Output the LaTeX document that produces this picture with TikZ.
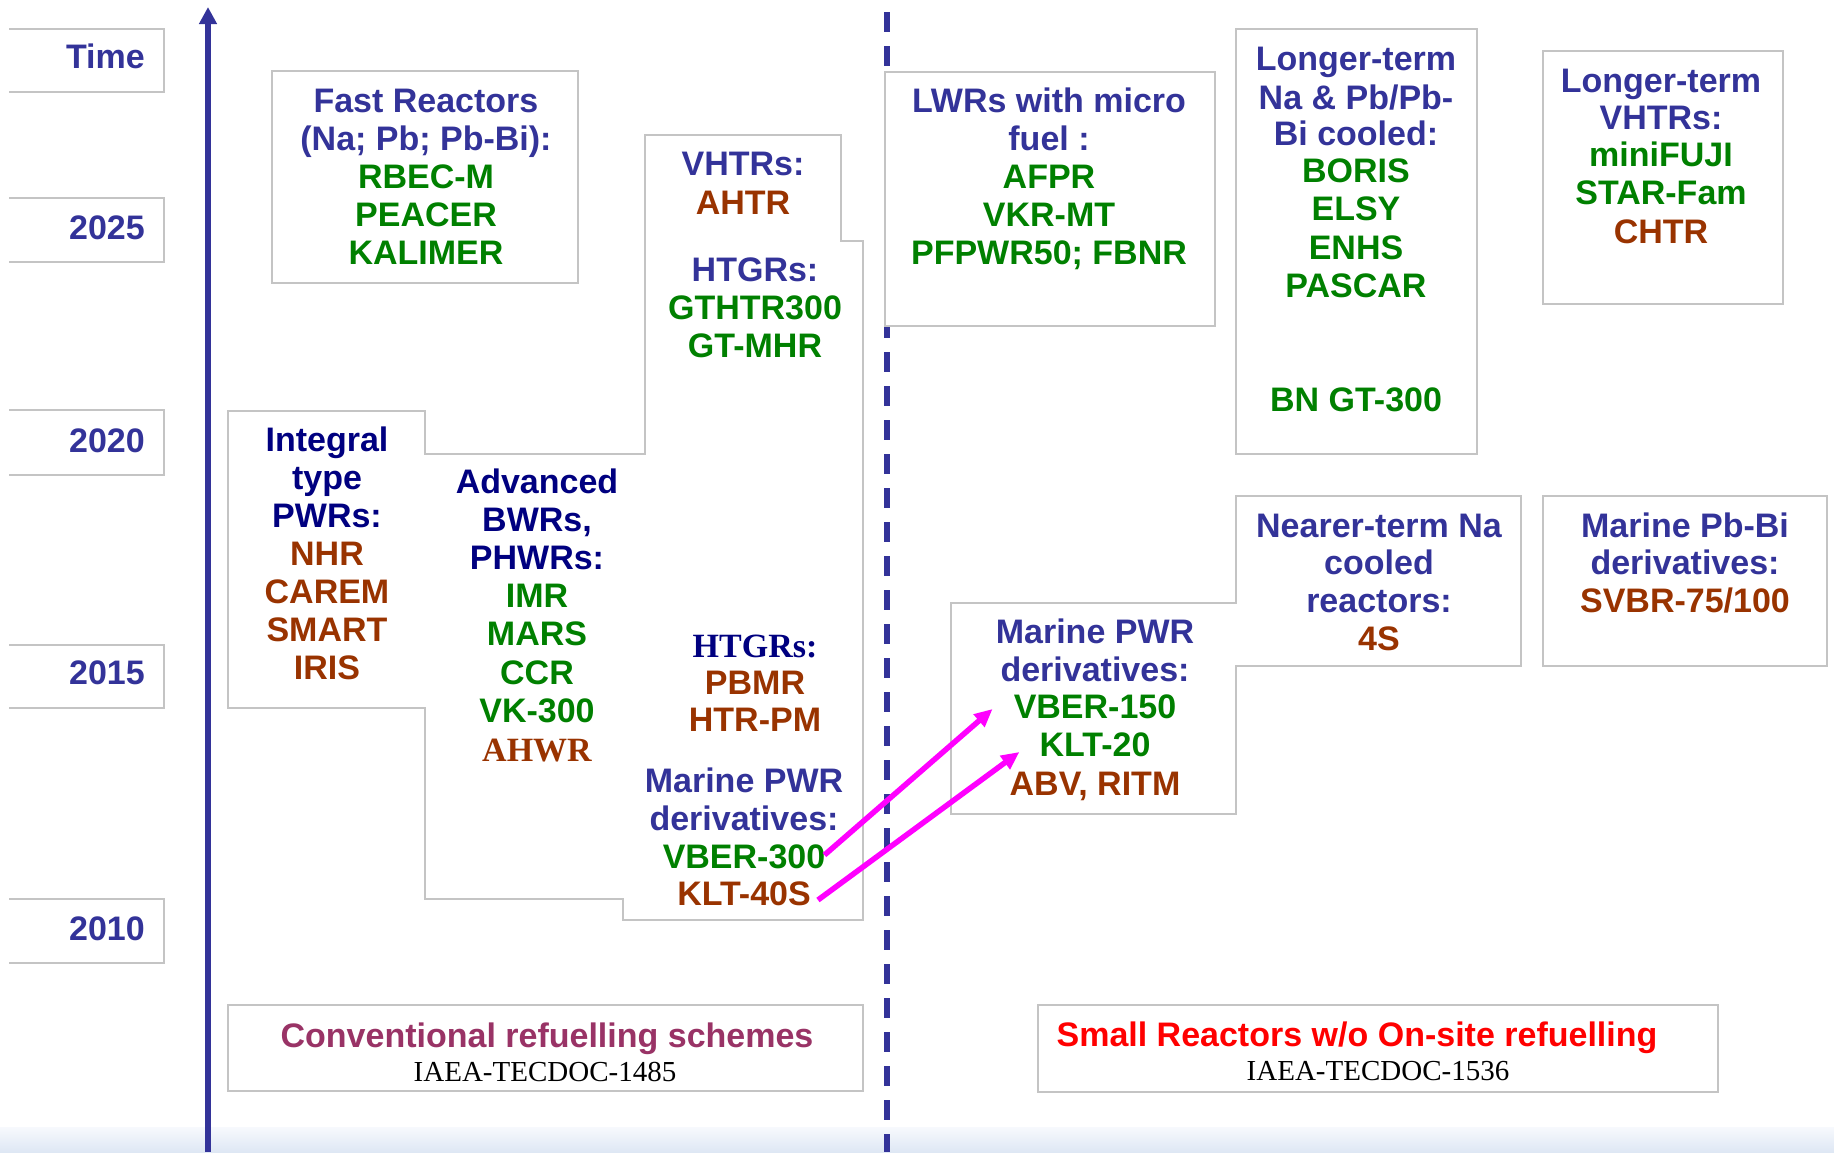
\documentclass[tikz,border=0pt]{standalone}
\usepackage{fontspec}
\setmainfont{Liberation Sans}
\newfontfamily\serfam{Liberation Serif}
\usetikzlibrary{arrows.meta,calc}
\definecolor{navyc}{HTML}{000080}
\definecolor{bluec}{HTML}{333399}
\definecolor{grnc}{HTML}{008000}
\definecolor{brnc}{HTML}{993300}
\definecolor{mrnc}{HTML}{993366}
\definecolor{boxc}{HTML}{C4C4C4}
\definecolor{redc}{HTML}{FF0000}
\definecolor{magc}{HTML}{FF00FF}
\begin{document}
\begin{tikzpicture}[x=1pt,y=-1pt,
  lbl/.style={anchor=base, inner sep=0pt, font=\fontsize{34}{38}\selectfont\bfseries},
  slbl/.style={anchor=base, inner sep=0pt, font=\fontsize{34}{38}\selectfont\serfam\bfseries},
  ref/.style={anchor=base, inner sep=0pt, font=\fontsize{29}{32}\selectfont\serfam, text=black},
  yr/.style={anchor=base east, inner sep=0pt, font=\fontsize{34}{38}\selectfont\bfseries, text=bluec},
  hb/.style={lbl, text=bluec},
  hn/.style={lbl, text=navyc},
  gn/.style={lbl, text=grnc},
  bn/.style={lbl, text=brnc},
  frame/.style={draw=boxc, line width=1.5pt, fill=white},
  yrframe/.style={draw=boxc, line width=1.5pt},
  link/.style={draw=magc, line width=5.5pt, -{Triangle[length=18pt,width=16pt]}}
]
\useasboundingbox (0,0) rectangle (1834,1152);
\fill[white] (0,0) rectangle (1834,1152);
\shade[top color={rgb,255:red,247;green,249;blue,253}, bottom color={rgb,255:red,222;green,231;blue,244}] (0,1127) rectangle (1834,1152);

% year boxes
\draw[yrframe] (9,29) -- (164,29) -- (164,92) -- (9,92);
\draw[yrframe] (9,198) -- (164,198) -- (164,262) -- (9,262);
\draw[yrframe] (9,410) -- (164,410) -- (164,475) -- (9,475);
\draw[yrframe] (9,645) -- (164,645) -- (164,708) -- (9,708);
\draw[yrframe] (9,899) -- (164,899) -- (164,963) -- (9,963);
\node[yr] (ytime) at (145,68) {Time};
\node[yr] (y2025) at (145,239) {2025};
\node[yr] (y2020) at (145,452) {2020};
\node[yr] (y2015) at (145,684) {2015};
\node[yr] (y2010) at (145,940) {2010};

% time axis
\coordinate (axb) at (208,1152);
\coordinate (axt) at (208,7);
\draw[draw=bluec, line width=6pt, -{Triangle[length=17pt,width=17pt]}] (axb) -- (axt);

% dashed divider
\coordinate (dvt) at (887,12);
\coordinate (dvb) at (887,1152);
\draw[draw=bluec, line width=6pt, dash pattern=on 20pt off 14pt] (dvt) -- (dvb);

% boxes
\draw[frame] (645,135) -- (841,135) -- (841,241) -- (863,241) -- (863,920) -- (623,920) -- (623,899) -- (425,899) -- (425,708) -- (228,708) -- (228,411) -- (425,411) -- (425,454) -- (645,454) -- cycle;
\draw[frame] (272,71) rectangle (578,283);
\draw[frame] (885,72) rectangle (1215,326);
\draw[frame] (1236,29) rectangle (1477,454);
\draw[frame] (1543,51) rectangle (1783,304);
\draw[frame] (951,603) -- (1236,603) -- (1236,496) -- (1521,496) -- (1521,666) -- (1236,666) -- (1236,814) -- (951,814) -- cycle;
\draw[frame] (1543,496) rectangle (1827,666);
\draw[frame] (228,1005) rectangle (863,1091);
\draw[frame] (1038,1005) rectangle (1718,1092);

% Fast reactors
\node[hb] (fr1) at (426,112) {Fast Reactors};
\node[hb] (fr2) at (426,150) {(Na; Pb; Pb-Bi):};
\node[gn] (fr3) at (426,188) {RBEC-M};
\node[gn] (fr4) at (426,226) {PEACER};
\node[gn] (fr5) at (426,264) {KALIMER};

% VHTRs / HTGRs upper
\node[hb] (vh1) at (743,175) {VHTRs:};
\node[bn] (vh2) at (743,214) {AHTR};
\node[hb] (hg1) at (755,281) {HTGRs:};
\node[gn] (hg2) at (755,319) {GTHTR300};
\node[gn] (hg3) at (755,357) {GT-MHR};

% Integral type PWRs
\node[hn] (ip1) at (327,451) {Integral};
\node[hn] (ip2) at (327,489) {type};
\node[hn] (ip3) at (327,527) {PWRs:};
\node[bn] (ip4) at (327,565) {NHR};
\node[bn] (ip5) at (327,603) {CAREM};
\node[bn] (ip6) at (327,641) {SMART};
\node[bn] (ip7) at (327,679) {IRIS};

% Advanced BWRs
\node[hn] (ab1) at (537,493) {Advanced};
\node[hn] (ab2) at (537,531) {BWRs,};
\node[hn] (ab3) at (537,569) {PHWRs:};
\node[gn] (ab4) at (537,607) {IMR};
\node[gn] (ab5) at (537,645) {MARS};
\node[gn] (ab6) at (537,684) {CCR};
\node[gn] (ab7) at (537,722) {VK-300};
\node[slbl, text=brnc] (ab8) at (537,761) {AHWR};

% HTGRs lower
\node[slbl, text=navyc] (hl1) at (755,657) {HTGRs:};
\node[bn] (hl2) at (755,694) {PBMR};
\node[bn] (hl3) at (755,731) {HTR-PM};

% Marine PWR left
\node[hb] (ml1) at (744,792) {Marine PWR};
\node[hb] (ml2) at (744,830) {derivatives:};
\node[gn] (vber300) at (744,868) {VBER-300};
\node[bn] (klt40s) at (744,905) {KLT-40S};

% LWRs with micro fuel
\node[hb] (lw1) at (1049,112) {LWRs with micro};
\node[hb] (lw2) at (1049,150) {fuel :};
\node[gn] (lw3) at (1049,188) {AFPR};
\node[gn] (lw4) at (1049,226) {VKR-MT};
\node[gn] (lw5) at (1049,264) {PFPWR50; FBNR};

% Longer-term Na & Pb
\node[hb] (ln1) at (1356,70) {Longer-term};
\node[hb] (ln2) at (1356,109) {Na \& Pb/Pb-};
\node[hb] (ln3) at (1356,145) {Bi cooled:};
\node[gn] (ln4) at (1356,182) {BORIS};
\node[gn] (ln5) at (1356,220) {ELSY};
\node[gn] (ln6) at (1356,259) {ENHS};
\node[gn] (ln7) at (1356,297) {PASCAR};
\node[gn] (ln8) at (1356,411) {BN GT-300};

% Longer-term VHTRs
\node[hb] (lv1) at (1661,92) {Longer-term};
\node[hb] (lv2) at (1661,129) {VHTRs:};
\node[gn] (lv3) at (1661,166) {miniFUJI};
\node[gn] (lv4) at (1661,204) {STAR-Fam};
\node[bn] (lv5) at (1661,243) {CHTR};

% Nearer-term Na
\node[hb] (nt1) at (1379,537) {Nearer-term Na};
\node[hb] (nt2) at (1379,574) {cooled};
\node[hb] (nt3) at (1379,612) {reactors:};
\node[bn] (nt4) at (1379,650) {4S};

% Marine Pb-Bi
\node[hb] (mp1) at (1685,537) {Marine Pb-Bi};
\node[hb] (mp2) at (1685,574) {derivatives:};
\node[bn] (mp3) at (1685,612) {SVBR-75/100};

% Marine PWR right
\node[hb] (mr1) at (1095,643) {Marine PWR};
\node[hb] (mr2) at (1095,681) {derivatives:};
\node[gn] (vber150) at (1095,718) {VBER-150};
\node[gn] (klt20) at (1095,756) {KLT-20};
\node[bn] (mr5) at (1095,795) {ABV, RITM};

% footers
\node[lbl, text=mrnc] (cv1) at (547,1047) {Conventional refuelling schemes};
\node[ref] (cv2) at (545,1081) {IAEA-TECDOC-1485};
\node[lbl, text=redc] (sr1) at (1357,1046) {Small Reactors w/o On-site refuelling};
\node[ref] (sr2) at (1378,1080) {IAEA-TECDOC-1536};

% magenta links
\draw[link] ($(vber300.base east)+(-1,-13)$) -- ($(vber150.base west)+(-21,-9)$);
\draw[link] ($(klt40s.base east)+(7,-5)$) -- ($(klt20.base west)+(-20,-4)$);
\end{tikzpicture}
\end{document}
